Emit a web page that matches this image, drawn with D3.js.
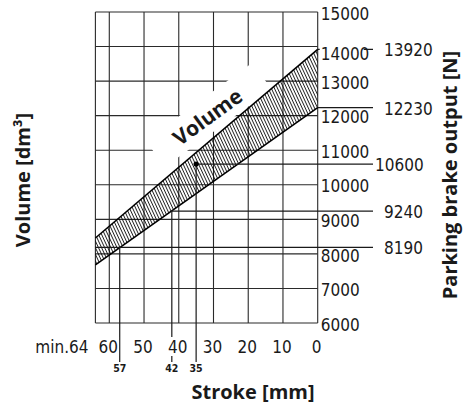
<!DOCTYPE html>
<html>
<head>
<meta charset="utf-8">
<script src="https://cdn.jsdelivr.net/npm/d3@7"></script>
<style>
  body { margin: 0; background: #fff; }
  svg { display: block; }
</style>
</head>
<body>
<div id="chart"></div>
<script>
// Values
let strokeTicks = [60, 50, 40, 30, 20, 10, 0];
let strokeMin = 64;
let volumeTicks = [15000, 14000, 13000, 12000, 11000, 10000, 9000, 8000, 7000, 6000];
// band of the volume curve: stroke at both ends, upper and lower edge
let bandStroke = [64, 0];
let bandUpper = [8460, 13920];
let bandLower = [7680, 12230];
// read-off lines on the right side, and the stroke where each one starts
let outputLabels = [13920, 12230, 10600, 9240, 8190];
let outputStart = [0, 0, 35, 42, 64];
// stroke marks under the axis and the output where they meet the band
let markStroke = [57, 42, 35];
let markOutput = [8190, 9240, 10600];

let w = 467;
let h = 407;
let tickFont = '"Liberation Sans Narrow", "DejaVu Sans Condensed", sans-serif';
let titleFont = '"Open Sans", "DejaVu Sans", sans-serif';

let svg = d3.select("#chart").append("svg")
    .attr("width", w)
    .attr("height", h);

let x = d3.scaleLinear().domain([strokeMin, 0]).range([95.4, 317.7]);
let y = d3.scaleLinear().domain([6000, 15000]).range([323, 12]);

// hatch pattern for the band
svg.append("defs").append("pattern")
    .attr("id", "hatch")
    .attr("patternUnits", "userSpaceOnUse")
    .attr("width", 2.8)
    .attr("height", 10)
    .attr("patternTransform", "rotate(-25)")
    .append("line")
    .attr("x1", 1.4).attr("y1", 0)
    .attr("x2", 1.4).attr("y2", 10)
    .attr("stroke", "#000")
    .attr("stroke-width", 0.85);

// grid and frame
let grid = svg.append("g")
    .attr("stroke", "#2a2a2a")
    .attr("stroke-width", 1.1);
grid.selectAll(".vgrid")
    .data([strokeMin].concat(strokeTicks))
    .enter().append("line")
    .attr("x1", d => x(d)).attr("x2", d => x(d))
    .attr("y1", y(15000)).attr("y2", y(6000));
grid.selectAll(".hgrid")
    .data(volumeTicks)
    .enter().append("line")
    .attr("x1", x(strokeMin)).attr("x2", x(0))
    .attr("y1", d => y(d)).attr("y2", d => y(d));

// white knock-out behind the "Volume" label
let volLabel = svg.append("g")
    .attr("transform", "translate(212,123) rotate(-36)");
volLabel.append("rect")
    .attr("x", -64).attr("y", -25)
    .attr("width", 132).attr("height", 33)
    .attr("fill", "#fff");

// band
let band = bandStroke.map((s, i) => ({s: s, hi: bandUpper[i], lo: bandLower[i]}));
svg.append("path")
    .datum(band)
    .attr("d", d3.area().x(d => x(d.s)).y0(d => y(d.lo)).y1(d => y(d.hi)))
    .attr("fill", "url(#hatch)");
svg.append("path")
    .datum(band)
    .attr("d", d3.line().x(d => x(d.s)).y(d => y(d.hi)))
    .attr("fill", "none").attr("stroke", "#000").attr("stroke-width", 1.6);
svg.append("path")
    .datum(band)
    .attr("d", d3.line().x(d => x(d.s)).y(d => y(d.lo)))
    .attr("fill", "none").attr("stroke", "#000").attr("stroke-width", 1.6);

// read-off lines
let marks = svg.append("g")
    .attr("stroke", "#1a1a1a")
    .attr("stroke-width", 1.2);
marks.selectAll(".hmark")
    .data(outputLabels)
    .enter().append("line")
    .attr("x1", (d, i) => x(outputStart[i])).attr("x2", 373)
    .attr("y1", d => y(d)).attr("y2", d => y(d));
marks.selectAll(".vmark")
    .data(markStroke)
    .enter().append("line")
    .attr("x1", d => x(d)).attr("x2", d => x(d))
    .attr("y1", (d, i) => y(markOutput[i])).attr("y2", 362);
svg.append("circle")
    .attr("cx", x(35)).attr("cy", y(10600))
    .attr("r", 2.6)
    .attr("fill", "#000");

volLabel.append("text")
    .attr("text-anchor", "middle")
    .attr("font-family", titleFont)
    .attr("font-weight", "bold")
    .attr("font-size", 21)
    .attr("fill", "#1a1a1a")
    .text("Volume");

// right axis (brake output)
let yAxis = svg.append("g")
    .attr("transform", `translate(${x(0)},0)`)
    .call(d3.axisRight(y).tickValues(volumeTicks).tickSize(0).tickPadding(3).tickFormat(d3.format("d")))
    .attr("font-family", tickFont)
    .attr("font-size", 17);
yAxis.select(".domain").remove();
yAxis.selectAll("text")
    .attr("fill", "#1a1a1a")
    .attr("dy", d => d === 14000 ? "0.79em" : "0.42em");
yAxis.selectAll(".tick").filter(d => d === 14000)
    .insert("rect", "text")
    .attr("x", 2).attr("y", 45.6 - y(14000))
    .attr("width", 44).attr("height", 17)
    .attr("fill", "#fff");

// bottom axis (stroke)
let xAxis = svg.append("g")
    .attr("transform", `translate(0,${y(6000)})`)
    .call(d3.axisBottom(x).tickValues([strokeMin].concat(strokeTicks)).tickSize(0).tickPadding(18)
        .tickFormat(d => d === strokeMin ? "min." + d : d))
    .attr("font-family", tickFont)
    .attr("font-size", 17);
xAxis.select(".domain").remove();
xAxis.selectAll("text")
    .attr("fill", "#1a1a1a")
    .attr("text-anchor", d => d === strokeMin ? "end" : "middle")
    .attr("dx", d => d === strokeMin ? -7.4 : -1.5);
xAxis.selectAll(".tick").each(function(d) {
    if (d === strokeMin) return;
    let bb = d3.select(this).select("text").node().getBBox();
    d3.select(this).insert("rect", "text")
        .attr("x", bb.x - 1).attr("y", 14)
        .attr("width", bb.width + 2).attr("height", 19)
        .attr("fill", "#fff");
});

// labels of the read-off lines
svg.append("g")
    .attr("font-family", tickFont)
    .attr("font-size", 17)
    .attr("fill", "#1a1a1a")
    .selectAll("text")
    .data(outputLabels)
    .enter().append("text")
    .attr("x", d => d === 10600 ? 375 : 384)
    .attr("y", d => y(d))
    .attr("dy", "0.42em")
    .text(d => d);

svg.append("g")
    .attr("font-family", tickFont)
    .attr("font-size", 10.5)
    .attr("font-weight", "bold")
    .attr("fill", "#1a1a1a")
    .attr("text-anchor", "middle")
    .selectAll("text")
    .data(markStroke)
    .enter().append("text")
    .attr("x", d => x(d))
    .attr("y", 372)
    .text(d => d);

// axis titles
svg.append("text")
    .attr("transform", "translate(30,180) rotate(-90)")
    .attr("text-anchor", "middle")
    .attr("font-family", titleFont)
    .attr("font-weight", "bold")
    .attr("font-size", 20)
    .attr("fill", "#1a1a1a")
    .text("Volume [dm³]");
svg.append("text")
    .attr("x", 253).attr("y", 399)
    .attr("text-anchor", "middle")
    .attr("font-family", titleFont)
    .attr("font-weight", "bold")
    .attr("font-size", 20)
    .attr("fill", "#1a1a1a")
    .text("Stroke [mm]");
svg.append("text")
    .attr("transform", "translate(457,175) rotate(-90)")
    .attr("text-anchor", "middle")
    .attr("font-family", titleFont)
    .attr("font-weight", "bold")
    .attr("font-size", 20)
    .attr("fill", "#1a1a1a")
    .text("Parking brake output [N]");
</script>
</body>
</html>
